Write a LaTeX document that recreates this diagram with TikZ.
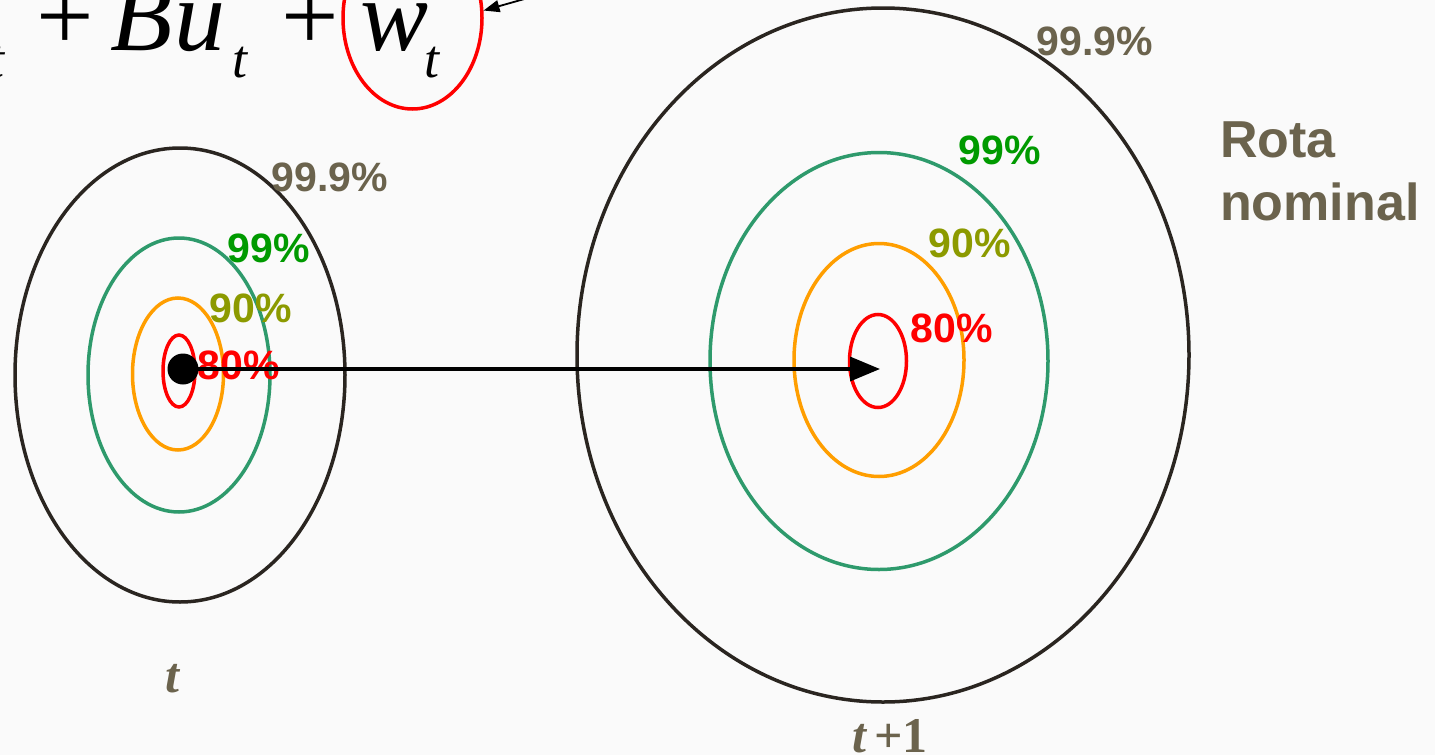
\documentclass[tikz,border=0pt]{standalone}
\usepackage{fontspec}
\setmainfont{Liberation Sans}
\newfontfamily\tnr{Liberation Serif}
\usetikzlibrary{shapes.geometric,arrows.meta}
\definecolor{bgc}{HTML}{FAFAFA}
\definecolor{dk}{HTML}{2A2520}
\definecolor{tealg}{HTML}{2E9A6C}
\definecolor{orng}{HTML}{FF9E00}
\definecolor{rd}{HTML}{FF0000}
\definecolor{brn}{HTML}{6B634D}
\definecolor{grn}{HTML}{009A00}
\definecolor{olv}{HTML}{8C9A00}
\begin{document}
\begin{tikzpicture}[x=1pt,y=-1pt,
  ring/.style={ellipse,draw,line width=3.5pt,inner sep=0pt},
  pct/.style={font=\fontsize{41}{41}\selectfont\bfseries,inner sep=0pt},
  eq/.style={font=\fontsize{102}{102}\selectfont\tnr,inner sep=0pt,anchor=base},
  eqsub/.style={font=\fontsize{54}{54}\selectfont\tnr\itshape,inner sep=0pt,anchor=base},
  tlab/.style={font=\fontsize{50}{50}\selectfont\tnr\bfseries,text=brn,inner sep=0pt,anchor=base}]
\fill[bgc] (0,0) rectangle (1435,755);
\useasboundingbox (0,0) rectangle (1435,755);

% left ellipses (time t)
\node[ring,draw=dk,minimum width=330pt,minimum height=454pt] (L4) at (180,375) {};
\node[ring,draw=tealg,minimum width=182pt,minimum height=274pt] (L3) at (179,375) {};
\node[ring,draw=orng,minimum width=91pt,minimum height=152pt] (L2) at (178,374) {};
\node[ring,draw=rd,minimum width=32pt,minimum height=72pt] (L1) at (179,371) {};

% right ellipses (time t+1)
\node[ring,draw=dk,minimum width=612pt,minimum height=694pt] (R4) at (883,355) {};
\node[ring,draw=tealg,minimum width=338pt,minimum height=417pt] (R3) at (879,361) {};
\node[ring,draw=orng,minimum width=170pt,minimum height=233pt] (R2) at (879,360) {};
\node[ring,draw=rd,minimum width=57pt,minimum height=93pt] (R1) at (878,361) {};

% labels left
\node[pct,text=brn] (l999) at (330,177) {99.9\%};
\node[pct,text=grn] (l99) at (269,248) {99\%};
\node[pct,text=olv] (l90) at (251,308) {90\%};
\node[pct,text=rd] (l80) at (239,365) {80\%};
% labels right
\node[pct,text=brn] (r999) at (1095,41) {99.9\%};
\node[pct,text=grn] (r99) at (1000,150) {99\%};
\node[pct,text=olv] (r90) at (970,243) {90\%};
\node[pct,text=rd] (r80) at (952,328) {80\%};

% nominal path arrow
\node[circle,fill=black,inner sep=0pt,minimum size=31pt] (dot) at (183,369) {};
\coordinate (tip) at (880,369);
\draw[line width=3.5pt,-{Triangle[length=30pt,width=24pt]}] (dot.center) -- (tip);

% Rota nominal
\node[font=\fontsize{52}{63}\selectfont\bfseries,text=brn,align=left,anchor=north west,inner sep=0pt] (rota) at (1220,122) {Rota\\nominal};

% time labels
\node[tlab] (tl) at (172,692) {\itshape t};
\node[tlab] (tr) at (890,752) {\itshape t\,\upshape +1};

% equation (cut off at the top)
\node[eqsub] (xs) at (-3,77) {t};
\node[eq] (p1) at (65,50) {+};
\node[eq] (B) at (142,50) {\itshape B};
\node[eq] (u) at (200,50) {\itshape u};
\node[eqsub] (us) at (240,77) {t};
\node[eq] (p2) at (310,50) {+};
\node[eq] (w) at (395,50) {\itshape w};
\node[eqsub] (ws) at (432,77) {t};
\node[ellipse,draw=rd,line width=3.5pt,minimum width=139pt,minimum height=182pt,inner sep=0pt] (wring) at (412.5,18) {};
\coordinate (wfrom) at (535,-4);
\draw[line width=1.8pt,-{Triangle[length=16pt,width=12pt]}] (wfrom) -- (wring.6);

% fragment at the bottom
\draw[line width=1.5pt] (180,758) arc[start angle=180,end angle=0,radius=6.5];
\end{tikzpicture}
\end{document}
